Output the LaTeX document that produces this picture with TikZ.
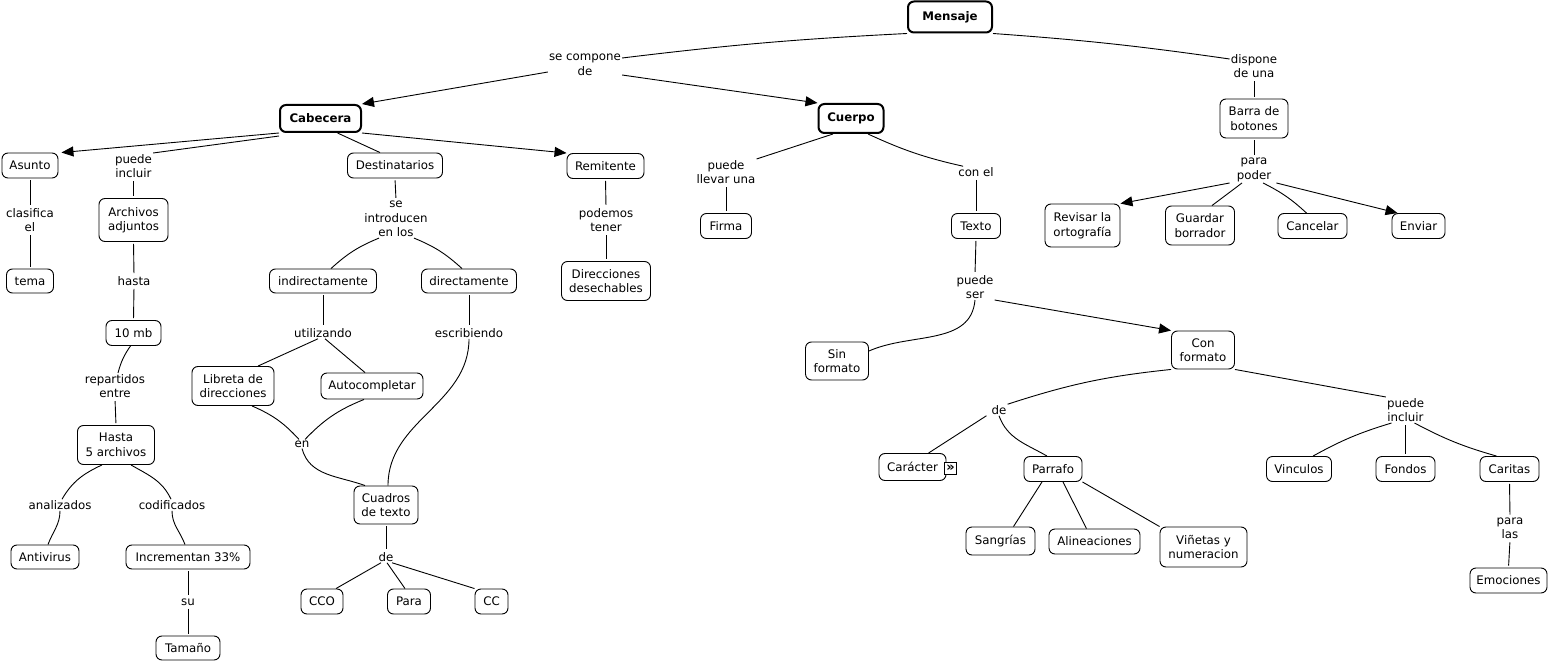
\documentclass[tikz,border=0pt]{standalone}
\usepackage{fontspec}
\setmainfont{DejaVu Sans}
\usetikzlibrary{arrows.meta}
\begin{document}
\begin{tikzpicture}[x=1pt,y=1pt,
  every node/.style={font=\fontsize{11.8}{14.5}\selectfont},
  cpt/.style={draw, rounded corners=6pt, line width=0.9pt, align=center, inner sep=1pt},
  mainc/.style={cpt, line width=2pt, font=\fontsize{11.8}{14.5}\selectfont\bfseries},
  lbl/.style={align=center, inner sep=1pt},
  ln/.style={line width=0.9pt},
  vln/.style={ln, shorten <=2pt, shorten >=2pt},
  arr/.style={ln, -{Triangle[length=12pt,width=10pt]}},
]
\path[use as bounding box] (0,0) rectangle (1553,-663);

% concepts
\node[mainc, minimum width=84pt, minimum height=31pt] (mensaje) at (950,-17) {Mensaje};
\node[mainc, minimum width=81pt, minimum height=27pt] (cabecera) at (320.5,-118.5) {Cabecera};
\node[mainc, minimum width=65pt, minimum height=29pt] (cuerpo) at (851,-118.5) {Cuerpo};
\node[cpt, minimum width=68pt, minimum height=39pt] (barra) at (1254,-118.5) {Barra de\\botones};
\node[cpt, minimum width=56pt, minimum height=25pt] (asunto) at (30,-165.5) {Asunto};
\node[cpt, minimum width=95pt, minimum height=25pt] (dest) at (395,-165.5) {Destinatarios};
\node[cpt, minimum width=77pt, minimum height=25pt] (remit) at (605.5,-166) {Remitente};
\node[cpt, minimum width=69pt, minimum height=43pt] (archivos) at (133.5,-220) {Archivos\\adjuntos};
\node[cpt, minimum width=51pt, minimum height=25pt] (firma) at (726,-226) {Firma};
\node[cpt, minimum width=49pt, minimum height=25pt] (texto) at (976,-226) {Texto};
\node[cpt, minimum width=75pt, minimum height=43pt] (revisar) at (1082.5,-225.5) {Revisar la\\ortografía};
\node[cpt, minimum width=69pt, minimum height=39pt] (guardar) at (1200,-225.5) {Guardar\\borrador};
\node[cpt, minimum width=69pt, minimum height=25pt] (cancelar) at (1312.5,-226) {Cancelar};
\node[cpt, minimum width=53pt, minimum height=25pt] (enviar) at (1418.5,-226) {Enviar};
\node[cpt, minimum width=47pt, minimum height=24pt] (tema) at (30,-281) {tema};
\node[cpt, minimum width=107pt, minimum height=24pt] (indir) at (323,-281) {indirectamente};
\node[cpt, minimum width=95pt, minimum height=24pt] (dir) at (469,-281) {directamente};
\node[cpt, minimum width=89pt, minimum height=39pt] (direcc) at (606,-281) {Direcciones\\desechables};
\node[cpt, minimum width=55pt, minimum height=25pt] (tenmb) at (133.5,-333) {10 mb};
\node[cpt, minimum width=63pt, minimum height=38pt] (sinf) at (837,-361) {Sin\\formato};
\node[cpt, minimum width=63pt, minimum height=38pt] (conf) at (1203,-350) {Con\\formato};
\node[cpt, minimum width=82pt, minimum height=39pt] (libreta) at (233,-386) {Libreta de\\direcciones};
\node[cpt, minimum width=102pt, minimum height=26pt] (auto) at (372,-386) {Autocompletar};
\node[cpt, minimum width=77pt, minimum height=39pt] (hasta5) at (116,-445) {Hasta\\5 archivos};
\node[cpt, minimum width=67pt, minimum height=27pt] (carac) at (912.5,-467) {Carácter};
\node[cpt, minimum width=58pt, minimum height=25pt] (parr) at (1053,-469) {Parrafo};
\node[cpt, minimum width=65pt, minimum height=25pt] (vinc) at (1299,-469) {Vinculos};
\node[cpt, minimum width=59pt, minimum height=25pt] (fondos) at (1405.5,-469) {Fondos};
\node[cpt, minimum width=59pt, minimum height=25pt] (caritas) at (1509.5,-469) {Caritas};
\node[cpt, minimum width=64pt, minimum height=38pt] (cuadros) at (386,-505) {Cuadros\\de texto};
\node[cpt, minimum width=69pt, minimum height=28pt] (sang) at (1000.5,-541) {Sangrías};
\node[cpt, minimum width=91pt, minimum height=25pt] (alin) at (1094.5,-541.5) {Alineaciones};
\node[cpt, minimum width=87pt, minimum height=40pt] (vinet) at (1203.5,-547) {Viñetas y\\numeracion};
\node[cpt, minimum width=68pt, minimum height=24pt] (antiv) at (45,-557) {Antivirus};
\node[cpt, minimum width=124pt, minimum height=24pt] (incr) at (188,-557) {Incrementan 33\%};
\node[cpt, minimum width=77pt, minimum height=25pt] (emoc) at (1508.5,-580.5) {Emociones};
\node[cpt, minimum width=42pt, minimum height=25pt] (cco) at (322,-601.5) {CCO};
\node[cpt, minimum width=43pt, minimum height=25pt] (para) at (409,-601.5) {Para};
\node[cpt, minimum width=33pt, minimum height=25pt] (cc) at (491.5,-601.5) {CC};
\node[cpt, minimum width=64pt, minimum height=24pt] (tamano) at (188,-648) {Tamaño};
\node[draw, fill=white, inner sep=0pt, minimum size=12pt, line width=0.8pt,
      font=\fontsize{13}{13}\selectfont\bfseries] (icon) at (950.5,-468) {»};

% linking phrases
\node[lbl] (secomp) at (585,-65) {se compone\\de};
\node[lbl] (dispone) at (1254,-66) {dispone\\de una};
\node[lbl] (pinc) at (133.5,-166) {puede\\incluir};
\node[lbl] (pll) at (726,-172) {puede\\llevar una};
\node[lbl] (conel) at (976,-172) {con el};
\node[lbl] (ppod) at (1254,-170) {para\\poder};
\node[lbl] (clasif) at (30,-220) {clasifica\\el};
\node[lbl] (seintro) at (396,-219) {se\\introducen\\en los};
\node[lbl] (podemos) at (606,-220) {podemos\\tener};
\node[lbl] (hasta) at (134,-281) {hasta};
\node[lbl] (pser) at (975,-287) {puede\\ser};
\node[lbl] (util) at (323,-333) {utilizando};
\node[lbl] (escrib) at (469,-333) {escribiendo};
\node[lbl] (repart) at (115,-386) {repartidos\\entre};
\node[lbl] (de2) at (999,-410) {de};
\node[lbl] (pinc2) at (1405.5,-410) {puede\\incluir};
\node[lbl] (en) at (302,-444) {en};
\node[lbl] (analiz) at (60,-505) {analizados};
\node[lbl] (codif) at (172,-505) {codificados};
\node[lbl] (parlas) at (1510,-528.5) {para\\las};
\node[lbl] (de1) at (386,-557) {de};
\node[lbl] (su) at (188,-602) {su};

% connectors
\draw[ln] (mensaje.south west) to[bend right=2] ([yshift=7pt]secomp.east);
\draw[arr] ([yshift=-7pt]secomp.west) -- (cabecera.north east);
\draw[arr] ([yshift=-10pt]secomp.east) -- (cuerpo.north west);
\draw[ln] (mensaje.south east) to[bend left=2] ([yshift=7pt]dispone.west);
\draw[vln] (dispone.south) -- (barra.north);

\draw[arr] (cabecera.south west) -- ([xshift=3pt]asunto.north east);
\draw[ln] ([yshift=-3pt]cabecera.south west) -- (pinc.north east);
\draw[ln] ([xshift=17pt]cabecera.south) -- ([xshift=-15pt]dest.north);
\draw[arr] (cabecera.south east) -- (remit.north west);

\draw[ln] ([xshift=-18pt]cuerpo.south) -- (pll.north east);
\draw[ln] ([xshift=17pt]cuerpo.south) to[bend right=6] ([xshift=6pt]conel.north west);
\draw[vln] (conel.south) -- (texto.north);
\draw[vln] (pll.south) -- (firma.north);

\draw[vln] (barra.south) -- (ppod.north);
\draw[arr] ([xshift=-6pt]ppod.south west) -- (revisar.north east);
\draw[ln] ([xshift=-12pt]ppod.south) -- ([xshift=12pt]guardar.north);
\draw[ln] ([xshift=9pt]ppod.south) to[bend left=8] ([xshift=-6pt]cancelar.north);
\draw[arr] ([xshift=4pt]ppod.south east) -- ([xshift=6pt]enviar.north west);

\draw[vln] (asunto.south) -- (clasif.north);
\draw[vln] (clasif.south) -- (tema.north);
\draw[vln] (pinc.south) -- (archivos.north);
\draw[vln] (archivos.south) -- (hasta.north);
\draw[vln] (hasta.south) -- (tenmb.north);
\draw[ln] ([xshift=-3pt]tenmb.south) to[bend right=10] ([xshift=3pt]repart.north);
\draw[vln] (repart.south) -- (hasta5.north);
\draw[ln] ([xshift=-14pt]hasta5.south) to[out=-155,in=60] ([xshift=2pt]analiz.north);
\draw[ln] ([xshift=15pt]hasta5.south) to[out=-30,in=115] ([xshift=-1pt]codif.north);
\draw[ln] (analiz.south) to[out=-90,in=70] ([xshift=3pt]antiv.north);
\draw[ln] (codif.south) to[out=-90,in=110] ([xshift=-3pt]incr.north);
\draw[vln] (incr.south) -- (su.north);
\draw[vln] (su.south) -- (tamano.north);

\draw[vln] (dest.south) -- (seintro.north);
\draw[ln] ([xshift=-17pt]seintro.south) to[bend right=10] ([xshift=8pt]indir.north);
\draw[ln] ([xshift=18pt]seintro.south) to[bend left=10] ([xshift=-7pt]dir.north);
\draw[vln] (indir.south) -- (util.north);
\draw[ln] ([xshift=-5pt]util.south) -- ([xshift=25pt]libreta.north);
\draw[ln] ([xshift=2pt]util.south) -- ([xshift=-7pt]auto.north);
\draw[vln] (dir.south) -- (escrib.north);
\draw[ln] (escrib.south) to[out=-90,in=90] ([xshift=2pt]cuadros.north);
\draw[ln] ([xshift=19pt]libreta.south) to[bend left=12] ([xshift=-3pt]en.north);
\draw[ln] ([xshift=-8pt]auto.south) to[bend right=12] ([xshift=3pt]en.north);
\draw[ln] (en.south) to[out=-75,in=160] ([xshift=-21pt]cuadros.north);
\draw[vln] (cuadros.south) -- (de1.north);
\draw[ln] ([xshift=-5pt]de1.south) -- ([xshift=14pt]cco.north);
\draw[ln] ([xshift=1pt]de1.south) -- ([xshift=-4pt]para.north);
\draw[ln] ([xshift=6pt]de1.south) -- (cc.north west);

\draw[vln] (remit.south) -- (podemos.north);
\draw[vln] (podemos.south) -- (direcc.north);

\draw[vln] (texto.south) -- (pser.north);
\draw[ln] (pser.south) to[out=-95,in=24] ([yshift=10pt]sinf.east);
\draw[arr] (pser.south east) -- (conf.north west);
\draw[ln] (conf.south west) to[bend right=6] (de2.north east);
\draw[ln] (conf.south east) -- (pinc2.north west);
\draw[ln] ([xshift=-4pt]de2.south west) -- ([xshift=16pt]carac.north);
\draw[ln] (de2.south) to[out=-70,in=150] ([xshift=-6pt]parr.north);
\draw[ln] ([xshift=-11pt]parr.south) -- ([xshift=13pt]sang.north);
\draw[ln] ([xshift=10pt]parr.south) -- ([xshift=-8pt]alin.north);
\draw[ln] (parr.south east) -- (vinet.north west);
\draw[ln] ([xshift=-14pt]pinc2.south) to[bend right=6] ([xshift=14pt]vinc.north);
\draw[vln] (pinc2.south) -- (fondos.north);
\draw[ln] ([xshift=9pt]pinc2.south) to[bend right=6] ([xshift=-13pt]caritas.north);
\draw[vln] (caritas.south) -- (parlas.north);
\draw[vln] (parlas.south) -- (emoc.north);
\end{tikzpicture}
\end{document}
